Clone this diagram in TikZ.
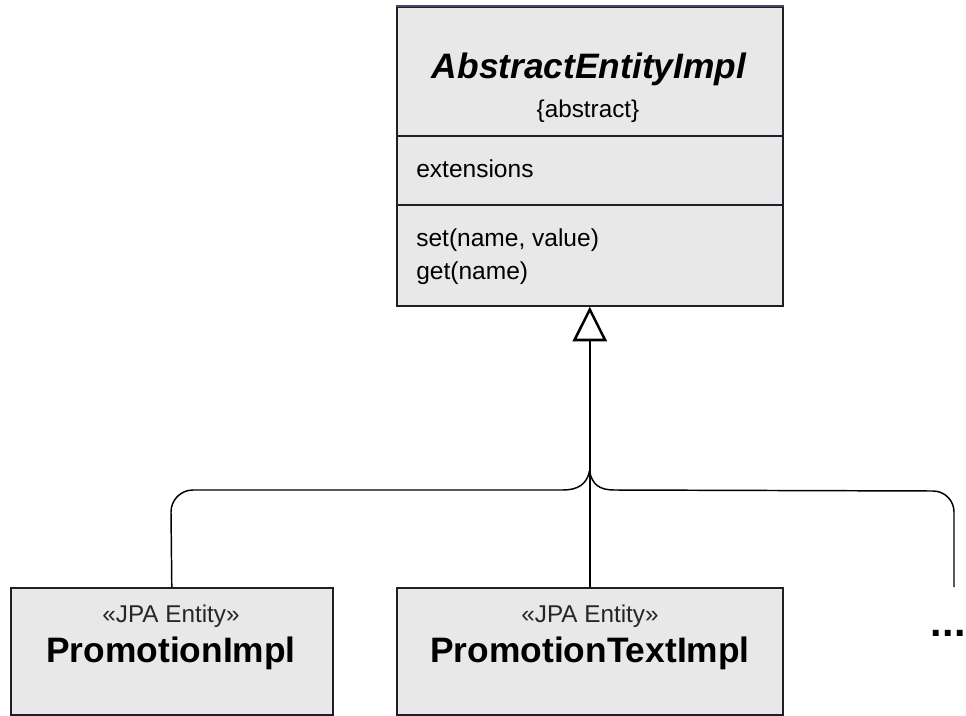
\documentclass[tikz,border=0pt]{standalone}
\usepackage{fontspec}
\setmainfont{Liberation Sans}
\usetikzlibrary{arrows.meta}

\definecolor{boxfill}{RGB}{232,232,232}
\definecolor{boxline}{RGB}{36,28,38}
\definecolor{topline}{RGB}{64,76,104}

\tikzset{
  classbox/.style={draw=boxline, line width=1.2pt, fill=boxfill, rectangle,
    inner sep=0pt, anchor=north west},
  titletext/.style={font=\fontsize{26.5}{30}\selectfont\bfseries\itshape, anchor=base, inner sep=0pt},
  nametext/.style={font=\fontsize{26.5}{30}\selectfont\bfseries, anchor=base, inner sep=0pt},
  stereotext/.style={font=\fontsize{18.2}{22}\selectfont, text=black!85, anchor=base, inner sep=0pt},
  membertext/.style={font=\fontsize{18.4}{22}\selectfont, anchor=base west, inner sep=0pt},
  connector/.style={draw=black, line width=1.1pt},
  generalization/.style={connector,
    -{Triangle[open, length=26pt, width=25.5pt, line width=1.9pt]}},
}

\begin{document}
\begin{tikzpicture}[x=0.75pt, y=-0.75pt]
  \useasboundingbox (0,0) rectangle (966,716);

  % abstract base class
  \node[classbox, minimum width=289.5pt, minimum height=224.25pt] (abs) at (396,6) {};
  \draw[topline, line width=1.6pt] (abs.north west) -- (abs.north east);
  \coordinate (sepA) at (396,136);
  \coordinate (sepB) at (396,205);
  \draw[boxline, line width=1.2pt] (sepA) -- (sepA -| abs.east);
  \draw[boxline, line width=1.2pt] (sepB) -- (sepB -| abs.east);
  \node[titletext] (absname) at (589,79) {AbstractEntityImpl};
  \node[stereotext, text=black] (abskind) at (588,118) {\{abstract\}};
  \node[membertext] (attr) at (416,178) {extensions};
  \node[membertext] (opset) at (416,247) {set(name, value)};
  \node[membertext] (opget) at (416,280) {get(name)};

  % concrete entity classes
  \node[classbox, minimum width=241.5pt, minimum height=95.25pt] (promo) at (10,587) {};
  \node[stereotext] (promost) at (171,622) {«JPA Entity»};
  \node[nametext] (promoname) at (171,662) {PromotionImpl};

  \node[classbox, minimum width=289.5pt, minimum height=95.25pt] (promotext) at (396,587) {};
  \node[stereotext] (promotextst) at (590,622) {«JPA Entity»};
  \node[nametext] (promotextname) at (590,662) {PromotionTextImpl};

  % further subclasses
  \node[font=\fontsize{31}{34}\selectfont\bfseries, anchor=base west, inner sep=0pt]
    (more) at (930,636) {.\hspace{0.6pt}.\hspace{0.6pt}.};
  \coordinate (moreend) at (954,587);

  % generalization trunk and branches
  \coordinate (join) at (589.5,471);
  \draw[generalization] (promotext.north) -- (abs.south);
  \draw[connector] (promo.north) -- (171,512) arc[start angle=180, end angle=270, radius=22]
    -- (563,490) .. controls (578,490) and (587,484) .. (join);
  \draw[connector] (moreend) -- (954,512) arc[start angle=0, end angle=-90, radius=21]
    -- (614,490) .. controls (599,490) and (592,484) .. (join);
\end{tikzpicture}
\end{document}
